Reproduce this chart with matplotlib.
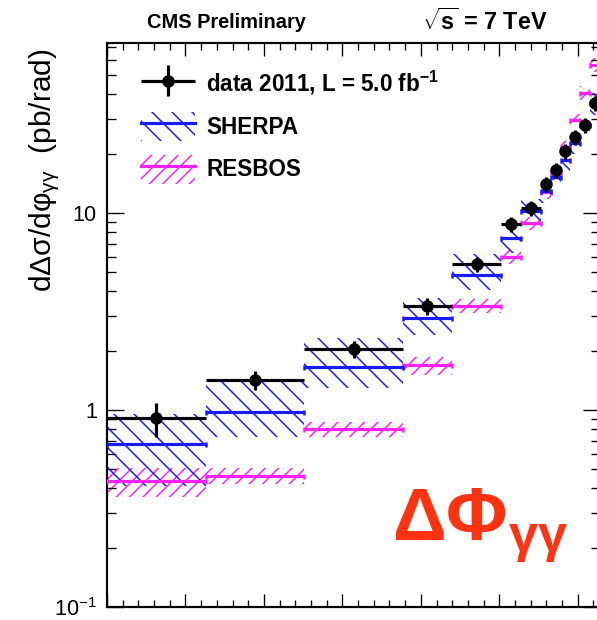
import numpy as np
import matplotlib
matplotlib.use("Agg")
import matplotlib.pyplot as plt
from matplotlib.patches import Patch
from matplotlib.lines import Line2D
from matplotlib.legend_handler import HandlerTuple, HandlerErrorbar
from matplotlib.container import ErrorbarContainer
from matplotlib.ticker import FixedLocator, FixedFormatter, MultipleLocator, NullFormatter

plt.rcParams['font.family'] = ['Liberation Sans', 'DejaVu Sans']
plt.rcParams['mathtext.fontset'] = 'custom'
plt.rcParams['mathtext.rm'] = 'Liberation Sans'
plt.rcParams['mathtext.it'] = 'Liberation Sans:italic'
plt.rcParams['mathtext.bf'] = 'Liberation Sans:bold'
plt.rcParams['hatch.linewidth'] = 0.9

# Bin edges in units of pi
edges_pi = [0, 0.2, 0.4, 0.6, 0.7, 0.8, 0.84, 0.88, 0.90, 0.92, 0.94, 0.96, 0.98, 1.0]

# Measured cross section (pb/rad) and uncertainties
data = [0.91, 1.42, 2.04, 3.37, 5.5, 8.8, 10.6, 14.0, 16.5, 20.6, 24.3, 28.0, 36.0]
data_err = [0.18, 0.16, 0.21, 0.34, 0.5, 0.8, 0.95, 1.25, 1.5, 1.85, 2.2, 2.5, 3.2]

# SHERPA prediction with uncertainty band
sherpa = [0.67, 0.98, 1.65, 2.93, 4.85, 7.5, 10.2, 12.9, 15.2, 18.6, 22.7, 28.0, 36.0]
sherpa_lo = [0.41, 0.73, 1.30, 2.40, 4.06, 6.3, 8.8, 11.3, 13.3, 16.3, 19.9, 24.5, 31.5]
sherpa_hi = [0.95, 1.38, 2.32, 3.70, 6.20, 8.9, 11.8, 14.6, 17.2, 21.0, 25.7, 31.7, 40.7]

# RESBOS prediction with uncertainty band
resbos = [0.436, 0.46, 0.80, 1.69, 3.37, 6.0, 8.9, 12.8, 16.1, 21.6, 29.6, 40.7, 56.4]
resbos_lo = [0.36, 0.42, 0.73, 1.50, 3.12, 5.5, 8.2, 11.8, 14.8, 19.9, 27.2, 37.4, 51.9]
resbos_hi = [0.51, 0.51, 0.87, 1.86, 3.65, 6.5, 9.6, 13.8, 17.4, 23.3, 32.0, 44.0, 61.0]

edges = np.pi * np.array(edges_pi)
left = edges[:-1]
width = np.diff(edges)
centers = left + width / 2
halfw = width / 2

W, H, DPI = 597, 620, 120
fig = plt.figure(figsize=(W / DPI, H / DPI), dpi=DPI)
ax = fig.add_axes([107 / W, 13 / H, (600 - 107) / W, (607 - 43) / H])

blue = '#1a1aff'
magenta = '#ff22ff'
hatch_sherpa = '\\\\'
hatch_resbos = '///'

# uncertainty bands
ax.bar(left, np.array(resbos_hi) - np.array(resbos_lo), bottom=resbos_lo, width=width,
       align='edge', facecolor='none', edgecolor=magenta, hatch=hatch_resbos, linewidth=0, zorder=1)
ax.bar(left, np.array(sherpa_hi) - np.array(sherpa_lo), bottom=sherpa_lo, width=width,
       align='edge', facecolor='none', edgecolor=blue, hatch=hatch_sherpa, linewidth=0, zorder=2)

# central predictions
ax.errorbar(centers, resbos, xerr=halfw, fmt='none', ecolor=magenta, elinewidth=1.9,
            capsize=1.5, capthick=1.5, zorder=3)
ax.errorbar(centers, sherpa, xerr=halfw, fmt='none', ecolor=blue, elinewidth=1.9,
            capsize=1.5, capthick=1.5, zorder=4)

# data
dat = ax.errorbar(centers, data, xerr=halfw, yerr=data_err, fmt='o', color='black',
                  ms=6.5, elinewidth=1.9, capsize=0, zorder=5)

ax.set_yscale('log')
ax.set_xlim(0, np.pi)
ax.set_ylim(0.1, 73)

ax.yaxis.set_major_locator(FixedLocator([0.1, 1, 10]))
ax.yaxis.set_major_formatter(FixedFormatter(['10$^{-1}$', '1', '10']))
ax.yaxis.set_minor_locator(FixedLocator([m * 10.0 ** k for k in (-1, 0, 1) for m in range(2, 10)]))
ax.yaxis.set_minor_formatter(NullFormatter())
ax.xaxis.set_major_locator(MultipleLocator(0.5))
ax.xaxis.set_minor_locator(MultipleLocator(0.1))
ax.xaxis.set_major_formatter(NullFormatter())

ax.tick_params(which='both', direction='in', top=True, right=True, width=0.8, colors='black')
ax.tick_params(axis='y', which='major', length=10, labelsize=13, pad=6)
ax.tick_params(axis='y', which='minor', length=5.5)
ax.tick_params(axis='x', which='major', length=8)
ax.tick_params(axis='x', which='minor', length=4)
for s in ax.spines.values():
    s.set_linewidth(1.3)

# legend
h_sherpa = (Patch(facecolor='none', edgecolor=blue, hatch=hatch_sherpa, linewidth=0),
            Line2D([], [], color=blue, lw=1.9))
h_resbos = (Patch(facecolor='none', edgecolor=magenta, hatch=hatch_resbos, linewidth=0),
            Line2D([], [], color=magenta, lw=1.9))
fs_leg = 13.5
ax.legend([dat, h_sherpa, h_resbos],
          [r'data 2011, L = 5.0 fb$^{\mathbf{-1}}$', 'SHERPA', 'RESBOS'],
          handler_map={tuple: HandlerTuple(ndivide=1),
                       ErrorbarContainer: HandlerErrorbar(xerr_size=1.2, yerr_size=0.7)},
          loc='upper left', bbox_to_anchor=(141 / W, 1 - 69 / H), bbox_transform=fig.transFigure,
          frameon=False, borderpad=0, borderaxespad=0, handlelength=2.4, handleheight=1.6,
          handletextpad=0.5, labelspacing=0.6, prop={'weight': 'bold', 'size': fs_leg})

# header texts
fig.text(147 / W, 1 - 22 / H, 'CMS Preliminary', fontsize=12, fontweight='bold',
         ha='left', va='center')
fig.text(422 / W, 1 - 22 / H, r'$\mathbf{\sqrt{s}}$ = 7 TeV', fontsize=14, fontweight='bold',
         ha='left', va='center')

# y axis title
fig.text(45 / W, 1 - 48 / H, r'dΔσ/dφ$_{\mathregular{γγ}}$  (pb/rad)', fontsize=18,
         rotation=90, ha='center', va='top')

# observable label
ax.text(392 / W, 1 - 541 / H, r'ΔΦ$_{\mathbf{γγ}}$', transform=fig.transFigure,
        fontsize=45, fontweight='bold', color='#ff3311', ha='left', va='baseline')

fig.savefig('out.png', dpi=DPI)
